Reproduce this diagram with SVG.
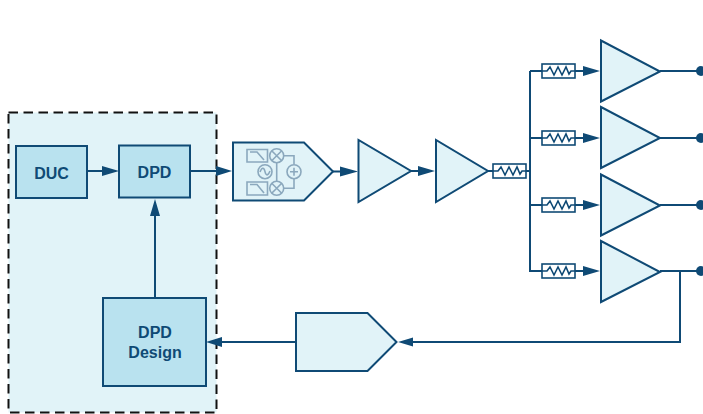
<svg xmlns="http://www.w3.org/2000/svg" width="703" height="414" viewBox="0 0 703 414">
<style>
.s{fill:#e1f3f8;stroke:#0f4a75;stroke-width:2}
.b{fill:#b9e2ef;stroke:#0f4a75;stroke-width:2}
.c{fill:none;stroke:#0f4a75;stroke-width:2}
.r{fill:#fff;stroke:#0f4a75;stroke-width:1.6}
.z{fill:none;stroke:#0f4a75;stroke-width:1.6;stroke-linejoin:miter}
.i{fill:none;stroke:#8ba8bd;stroke-width:1.6}
.h{fill:#0f4a75}
text{font-family:"Liberation Sans",Arial,sans-serif;font-weight:700;font-size:16px;fill:#0f4a75;text-anchor:middle}
</style>
<defs>
<g id="res"><rect class="r" x="0" y="-7" width="33" height="14"/><path class="z" d="M-0 0H5L8 -4L12 4L16 -4L20 4L24 -4L27 3L29 0H33"/></g>
<g id="amp"><path class="s" d="M0 0V61L59 31Z"/></g>
</defs>
<g id="dpd-boundary"><rect x="8.500" y="112.500" width="208" height="300" fill="#e1f3f8" stroke="#111" stroke-width="2" stroke-dasharray="9.500 5.500"/></g>
<g id="connectors">
<path class="c" d="M87 171H104M190 171H218M155 297V216M333 171.500H342M411 171H420M488 171H493M526 171H530M530 71V271H542M530 71H542M530 138H542M530 205H542M575 71H584M575 138H584M575 205H584M575 271H584M660 71H697M660 138H697M660 205H697M660 271H697M680 271V342H412M296 342H222"/>
<path class="h" d="M119 171L102 166V176ZM232 171L216 166V176ZM155 199L150 216H160ZM358 171.500L340 166.500V176.500ZM435 171L418 166V176ZM600 71L583 66V76ZM600 138L583 133V143ZM600 205L583 200V210ZM600 271L583 266V276ZM398 342L413 337.500V346.500ZM206 342L222 337V347Z"/>
<circle class="h" cx="701" cy="71" r="5"/><circle class="h" cx="701" cy="138" r="5"/><circle class="h" cx="701" cy="205" r="5"/><circle class="h" cx="701" cy="271" r="5"/>
</g>
<g id="duc"><rect class="b" x="16" y="146" width="71" height="52"/><text x="51.500" y="179">DUC</text></g>
<g id="dpd"><rect class="b" x="119" y="145.500" width="71" height="52"/><text x="154.500" y="177.800">DPD</text></g>
<g id="dpd-design"><rect class="b" x="103" y="298" width="103" height="88"/><text x="155" y="338.300">DPD</text><text x="155" y="357.500">Design</text></g>
<g id="modulator"><path class="s" d="M233 142.500H304L333 171.500L304 200.500H233Z"/>
<path class="i" d="M247 149.500H267.500V162H247ZM250 152H257L264 160M247 182H267.500V195H247ZM250 184.500H257L264 193"/>
<circle class="i" cx="276.700" cy="155.700" r="7"/><circle class="i" cx="276.700" cy="188.300" r="7"/><circle class="i" cx="265" cy="171.700" r="7"/><circle class="i" cx="294" cy="171.700" r="7"/>
<path class="i" d="M271.700 150.700L281.700 160.700M281.700 150.700L271.700 160.700M271.700 183.300L281.700 193.300M281.700 183.300L271.700 193.300M260 172C262 167 264 167 265 171.700C266 176 268 176 270 171M290 171.700H298M294 167.700V175.700M284 155.700H294V164M284 188.300H294V179M276.700 163V181"/></g>
<g id="amp-1"><path class="s" d="M358.500 140V202L411 171Z"/></g>
<g id="amp-2"><path class="s" d="M436 140V202L488 171Z"/></g>
<g id="res-0"><use href="#res" x="493" y="171"/></g>
<g id="res-1"><use href="#res" x="542" y="71"/></g>
<g id="res-2"><use href="#res" x="542" y="138"/></g>
<g id="res-3"><use href="#res" x="542" y="205"/></g>
<g id="res-4"><use href="#res" x="542" y="271"/></g>
<g id="pa-1"><use href="#amp" x="601" y="40.500"/></g>
<g id="pa-2"><use href="#amp" x="601" y="107"/></g>
<g id="pa-3"><use href="#amp" x="601" y="174.500"/></g>
<g id="pa-4"><use href="#amp" x="601" y="241"/></g>
<g id="adc"><path class="s" d="M296 313H367.500L396.500 342L367.500 371H296Z"/></g>
</svg>
